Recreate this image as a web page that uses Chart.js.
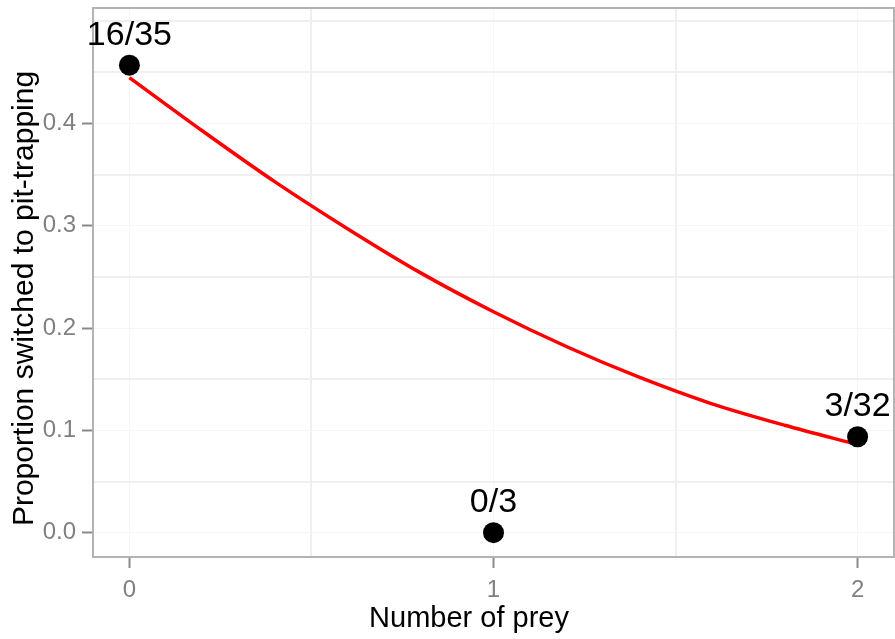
<!DOCTYPE html>
<html>
<head>
<meta charset="utf-8">
<script src="https://cdn.jsdelivr.net/npm/chart.js@4.4.1/dist/chart.umd.min.js"></script>
<style>
  html, body { margin: 0; padding: 0; background: #fff; overflow: hidden; }
  #wrap { width: 895px; height: 639px; }
</style>
</head>
<body>
<div id="wrap"><canvas id="preyChart"></canvas></div>
<script>
// observed switches out of trials, per number of prey
const preyCounts = [0, 1, 2];
const switched = [16, 0, 3];
const trials = [35, 3, 32];

// fitted curve
const fitX = [0, 0.2, 0.4, 0.6, 0.8, 1.0, 1.2, 1.4, 1.6, 1.8, 2.0];
const fitY = [0.445, 0.393, 0.343, 0.297, 0.254, 0.216, 0.182, 0.152, 0.126, 0.105, 0.086];

const xMajorTicks = [0, 1, 2];
const xMinorTicks = [0.5, 1.5];
const yMajorTicks = [0, 0.1, 0.2, 0.3, 0.4];
const yMinorTicks = [0.05, 0.15, 0.25, 0.35, 0.45, 0.5];

const xTitle = 'Number of prey';
const yTitle = 'Proportion switched to pit-trapping';

const proportions = switched.map((s, i) => s / trials[i]);
const pointLabels = switched.map((s, i) => s + '/' + trials[i]);

const FONT = '"Liberation Sans", Arial, Helvetica, sans-serif';

function gridStyle(majors) {
    const isMajor = v => majors.some(m => Math.abs(m - v) < 1e-9);
    return {
        color: ctx => isMajor(ctx.tick.value) ? '#f6f6f6' : '#efefef',
        lineWidth: ctx => isMajor(ctx.tick.value) ? 1 : 2,
        tickColor: ctx => isMajor(ctx.tick.value) ? '#8a8a8a' : 'rgba(0,0,0,0)',
        tickWidth: 2,
        tickLength: 11
    };
}

// fixed axis sizes, no extra edge padding for tick labels
function fixSize(prop, size) {
    return s => {
        s[prop] = size;
        s.paddingTop = s.paddingBottom = s.paddingLeft = s.paddingRight = 0;
    };
}

const panelBorder = {
    id: 'panelBorder',
    beforeDatasetsDraw(chart) {
        const a = chart.chartArea;
        const c = chart.ctx;
        c.save();
        c.strokeStyle = '#b3b3b3';
        c.lineWidth = 2;
        c.strokeRect(a.left, a.top, a.right - a.left, a.bottom - a.top);
        c.restore();
    }
};

const fracLabels = {
    id: 'fracLabels',
    afterDatasetsDraw(chart) {
        const c = chart.ctx;
        const xs = chart.scales.x, ys = chart.scales.y;
        c.save();
        c.font = '34px ' + FONT;
        c.fillStyle = '#000';
        c.textAlign = 'center';
        c.textBaseline = 'middle';
        pointLabels.forEach((txt, i) => {
            c.fillText(txt, xs.getPixelForValue(preyCounts[i]), ys.getPixelForValue(proportions[i]) - 30);
        });
        c.restore();
    }
};

// axis titles centred over panel + tick labels, like the old ggplot layout
const axisTitles = {
    id: 'axisTitles',
    afterDraw(chart) {
        const c = chart.ctx;
        const a = chart.chartArea;
        c.save();
        c.fillStyle = '#000';
        c.textAlign = 'center';
        c.textBaseline = 'middle';
        c.font = '29px ' + FONT;
        c.fillText(xTitle, (a.left - 50 + chart.width) / 2, chart.height - 20);
        c.font = '30px ' + FONT;
        c.translate(25, (a.bottom + 40) / 2);
        c.rotate(-Math.PI / 2);
        c.fillText(yTitle, 0, 0);
        c.restore();
    }
};

const ctx = document.getElementById('preyChart').getContext('2d');
new Chart(ctx, {
    type: 'scatter',
    data: {
        datasets: [
            {
                label: 'observed',
                data: preyCounts.map((x, i) => ({ x: x, y: proportions[i] })),
                pointRadius: 10.5,
                pointBackgroundColor: '#000',
                pointBorderWidth: 0,
                order: 0
            },
            {
                label: 'fit',
                data: fitX.map((x, i) => ({ x: x, y: fitY[i] })),
                showLine: true,
                borderColor: '#ff0000',
                borderWidth: 3.5,
                pointRadius: 0,
                tension: 0.3,
                order: 1
            }
        ]
    },
    options: {
        responsive: true,
        maintainAspectRatio: false,
        animation: false,
        layout: { autoPadding: false, padding: { top: 8, right: 1, left: 0, bottom: 0 } },
        plugins: { legend: { display: false }, tooltip: { enabled: false } },
        scales: {
            x: {
                type: 'linear',
                min: -0.1,
                max: 2.1,
                afterBuildTicks: s => { s.ticks = xMajorTicks.concat(xMinorTicks).map(v => ({ value: v })); },
                afterFit: fixSize('height', 82),
                border: { display: false },
                grid: gridStyle(xMajorTicks),
                ticks: {
                    color: '#808080',
                    font: { family: FONT, size: 24 },
                    padding: 8,
                    maxRotation: 0,
                    autoSkip: false,
                    callback: v => xMajorTicks.includes(v) ? String(v) : ''
                }
            },
            y: {
                min: -0.0238,
                max: 0.513,
                afterBuildTicks: s => { s.ticks = yMajorTicks.concat(yMinorTicks).map(v => ({ value: v })); },
                afterFit: fixSize('width', 93),
                border: { display: false },
                grid: gridStyle(yMajorTicks),
                ticks: {
                    color: '#808080',
                    font: { family: FONT, size: 24 },
                    padding: 6,
                    autoSkip: false,
                    callback: v => yMajorTicks.some(m => Math.abs(m - v) < 1e-9) ? v.toFixed(1) : ''
                }
            }
        }
    },
    plugins: [panelBorder, fracLabels, axisTitles]
});
</script>
</body>
</html>
